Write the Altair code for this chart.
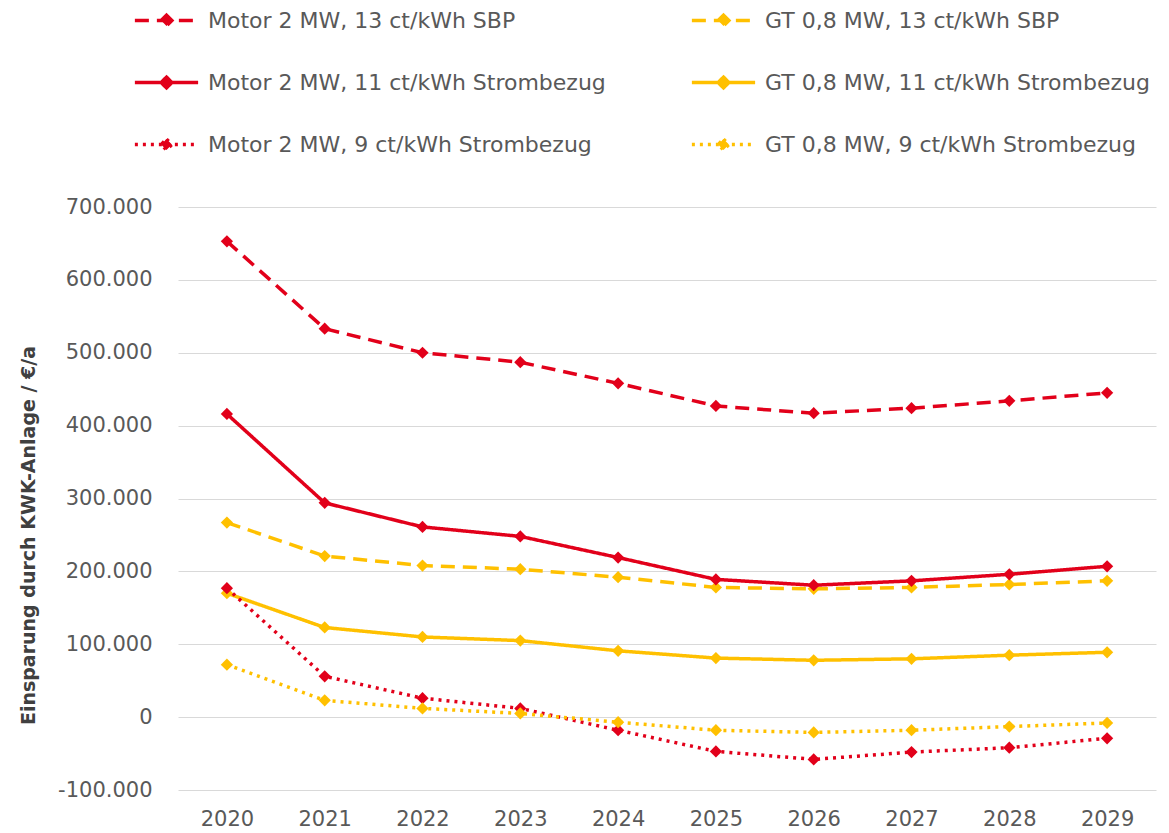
import altair as alt
import pandas as pd

years = [str(y) for y in range(2020, 2030)]
# drawing order (Excel series order)
series_names = [
    "Motor 2 MW, 13 ct/kWh SBP",
    "GT 0,8 MW, 13 ct/kWh SBP",
    "Motor 2 MW, 11 ct/kWh Strombezug",
    "GT 0,8 MW, 11 ct/kWh Strombezug",
    "Motor 2 MW, 9 ct/kWh Strombezug",
    "GT 0,8 MW, 9 ct/kWh Strombezug",
]
# legend order (column-major: Motor column, then GT column)
legend_order = [
    "Motor 2 MW, 13 ct/kWh SBP",
    "Motor 2 MW, 11 ct/kWh Strombezug",
    "Motor 2 MW, 9 ct/kWh Strombezug",
    "GT 0,8 MW, 13 ct/kWh SBP",
    "GT 0,8 MW, 11 ct/kWh Strombezug",
    "GT 0,8 MW, 9 ct/kWh Strombezug",
]
motor_13 = [653000, 533000, 500000, 487000, 458000, 427000, 417000, 424000, 434000, 445000]
gt_13 = [267000, 221000, 208000, 203000, 192000, 178000, 176000, 178000, 182000, 187000]
motor_11 = [416000, 294000, 261000, 248000, 219000, 189000, 181000, 187000, 196000, 207000]
gt_11 = [170000, 123000, 110000, 105000, 91000, 81000, 78000, 80000, 85000, 89000]
motor_9 = [177000, 56000, 26000, 12000, -18000, -47000, -58000, -48000, -42000, -29000]
gt_9 = [72000, 23000, 12000, 5000, -7000, -18000, -21000, -18000, -13000, -8000]
y_ticks = list(range(-100000, 700001, 100000))

values = [motor_13, gt_13, motor_11, gt_11, motor_9, gt_9]
rows = []
for name, vals in zip(series_names, values):
    for yr, v in zip(years, vals):
        rows.append({"Jahr": yr, "Serie": name, "Wert": v})
df = pd.DataFrame(rows)

RED = "#E2001A"
YELLOW = "#FFC000"
style = {
    "Motor 2 MW, 13 ct/kWh SBP": (RED, [14, 8]),
    "GT 0,8 MW, 13 ct/kWh SBP": (YELLOW, [14, 8]),
    "Motor 2 MW, 11 ct/kWh Strombezug": (RED, [1, 0]),
    "GT 0,8 MW, 11 ct/kWh Strombezug": (YELLOW, [1, 0]),
    "Motor 2 MW, 9 ct/kWh Strombezug": (RED, [3, 5]),
    "GT 0,8 MW, 9 ct/kWh Strombezug": (YELLOW, [3, 5]),
}
color_range = [style[s][0] for s in legend_order]
dash_range = [style[s][1] for s in legend_order]
FONT = "DejaVu Sans"
TXT = "#595959"

color_scale = alt.Scale(domain=legend_order, range=color_range)
dash_scale = alt.Scale(domain=legend_order, range=dash_range)

legend = alt.Legend(
    title=None, orient="none", legendX=-45, legendY=-220, columns=2,
    columnPadding=78, rowPadding=16,
    symbolType="M-1,0L1,0M0,-0.17L0.17,0L0,0.17L-0.17,0Z",
    symbolSize=4000, symbolStrokeWidth=3.5,
    labelFont=FONT, labelFontSize=22, labelColor=TXT, labelOffset=8, labelLimit=0,
)

x_enc = alt.X("Jahr:O", title=None, axis=alt.Axis(labelAngle=0, domain=False, ticks=False,
              labelFont=FONT, labelFontSize=21, labelColor=TXT, labelPadding=18))
y_enc = alt.Y("Wert:Q", scale=alt.Scale(domain=[-100000, 700000], nice=False, zero=False),
              axis=alt.Axis(values=y_ticks,
                            labelExpr="replace(replace(format(datum.value, ','), ',', '.'), '\u2212', '-')",
                            grid=True, gridColor="#d9d9d9", gridWidth=1.2, domain=False, ticks=False,
                            labelFont=FONT, labelFontSize=21, labelColor=TXT, labelPadding=26,
                            title="Einsparung durch KWK-Anlage / €/a", titleFont=FONT,
                            titleFontSize=19, titleFontWeight="bold", titleColor="#404040",
                            titleX=-140, titleY=328, titleAngle=270, titleBaseline="bottom",
                            titleAlign="center"))

layers = []
for name in series_names:
    base = alt.Chart(df).transform_filter(alt.datum.Serie == name)
    line = base.mark_line(strokeWidth=3.5).encode(
        x=x_enc, y=y_enc,
        color=alt.Color("Serie:N", scale=color_scale, legend=legend),
        strokeDash=alt.StrokeDash("Serie:N", scale=dash_scale, legend=legend),
    )
    pts = base.mark_point(shape="diamond", filled=True, size=150, opacity=1).encode(
        x=x_enc, y=y_enc,
        color=alt.Color("Serie:N", scale=color_scale, legend=legend),
    )
    layers += [line, pts]

chart = alt.layer(*layers).properties(
    width=978, height=583,
    autosize=alt.AutoSizeParams(type="none"),
    padding={"left": 170, "top": 199, "right": 5, "bottom": 40},
).configure_view(stroke=None)

chart.save("out.html", embed_options={"renderer": "svg", "actions": False})
